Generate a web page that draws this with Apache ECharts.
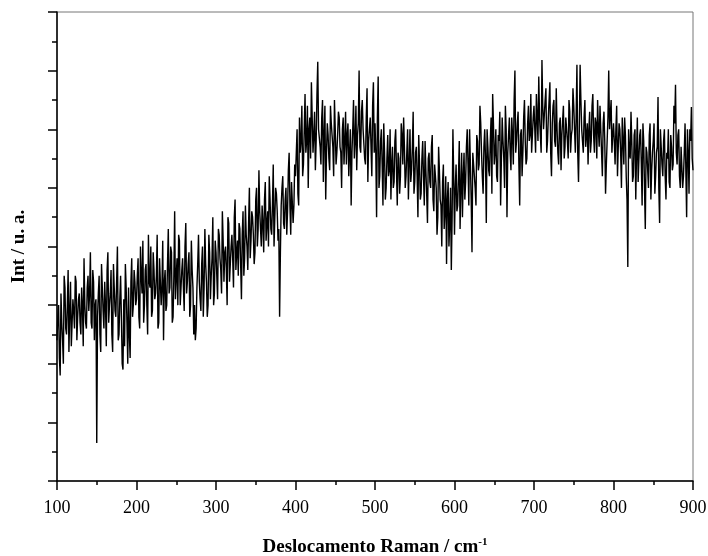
<!DOCTYPE html>
<html><head><meta charset="utf-8">
<script src="https://cdn.jsdelivr.net/npm/echarts@6/dist/echarts.min.js"></script>
<style>html,body{margin:0;padding:0;background:#fff}#c{width:708px;height:556px}</style>
</head><body><div id="c"></div>
<script>
// Raman shift grid: samples every 1 cm-1; each segment covers 100 cm-1,
// split into even-offset (x = start, start+2, ...) and odd-offset (x = start+1, start+3, ...) readings
const xStep = 2;
const xTickLabels = [100, 200, 300, 400, 500, 600, 700, 800, 900];
// Intensity (arbitrary units, axis 0..800)
const even100 = [240,300,180,270,200,330,250,360,290,230, 310,260,340,280,320,250,300,380,270,330,
  290,390,260,340,300,65,320,250,370,290, 340,230,390,300,360,220,330,280,400,250,
  350,200,310,370,270,330,210,380,300,340];
const odd100 = [280,210,320,240,350,260,300,220,340,270, 290,350,240,310,270,330,230,300,260,350,
  320,270,360,240,310,280,350,220,330,260, 300,360,270,320,250,370,290,340,240,310,
  280,190,230,330,200,250,340,280,360,300];
const even200 = [310,380,260,350,410,300,370,250,340,400, 290,360,320,420,270,380,330,240,360,300,
  430,330,390,280,460,350,300,410,330,380, 290,440,340,390,300,360,250,240,330,420,
  310,370,280,430,340,300,390,350,450,320];
const odd200 = [350,280,400,320,270,360,300,420,330,280, 390,310,350,260,380,300,410,340,290,370,
  320,400,270,350,310,380,420,300,360,330, 400,320,370,280,410,330,300,260,370,340,
  290,400,330,370,280,420,310,380,300,410];
const even300 = [390,310,420,360,460,340,400,300,440,370, 420,330,480,390,350,430,310,460,380,420,
  360,500,410,450,370,480,400,530,430,470, 390,510,440,400,480,420,540,450,490,410,
  280,470,520,430,500,460,560,420,510,470];
const odd300 = [350,430,380,320,410,390,360,450,340,400, 380,450,360,410,440,370,420,350,470,400,
  440,380,460,420,390,500,430,460,400,440, 480,410,460,520,430,470,400,500,460,430,
  390,500,440,480,420,530,470,510,440,540];
const even400 = [520,600,470,560,640,540,660,580,500,620, 680,560,630,580,715,600,540,650,590,480,
  610,550,640,590,520,600,560,630,570,500, 620,580,540,610,560,470,600,550,640,590,
  700,560,650,600,540,670,580,620,520,680];
const odd400 = [560,490,620,580,520,600,560,640,600,550, 620,590,530,660,600,570,620,510,640,560,
  590,530,610,570,650,540,590,620,560,600, 540,630,590,520,600,560,650,580,530,610,
  570,630,600,550,620,510,600,570,640,560];
const even500 = [610,450,690,520,600,470,560,500,590,530, 480,570,510,600,470,550,520,590,620,500,
  560,480,600,530,630,510,570,450,540,490, 580,470,530,440,560,500,590,460,520,420,
  570,480,400,540,460,370,510,440,360,600];
const odd500 = [560,620,500,580,540,610,480,550,520,600, 540,500,580,530,560,490,610,540,570,520,
  600,540,510,570,490,560,520,590,480,550, 520,580,490,550,510,570,480,540,500,450,
  530,470,510,430,520,480,400,500,450,520];
const even600 = [420,540,470,580,500,450,560,510,600,470, 540,390,560,500,590,530,640,560,490,600,
  440,570,520,620,660,540,600,510,580,470, 620,550,640,450,590,560,620,540,700,580,
  630,470,600,560,650,540,610,580,660,560];
const odd600 = [500,460,520,430,560,520,480,570,540,600, 480,560,520,470,580,540,610,520,570,550,
  600,530,580,490,610,560,520,590,630,550, 580,500,600,560,620,530,590,650,560,610,
  540,590,520,620,580,550,640,590,560,620];
const even700 = [640,560,620,690,590,718,600,650,560,620, 680,520,640,580,670,560,610,530,590,550,
  620,580,650,560,600,640,560,710,510,710, 600,560,650,590,540,630,580,660,560,610,
  650,570,600,520,630,490,580,700,600,560];
const odd700 = [600,660,580,620,560,640,600,670,580,620, 560,610,650,570,600,540,620,590,640,570,
  600,550,630,590,670,600,620,560,600,650, 580,620,570,610,600,560,640,590,620,550,
  600,640,560,610,580,540,620,600,650,590];
const even800 = [610,540,640,570,600,500,580,620,520,365, 560,630,510,590,480,620,550,600,470,580,
  430,560,500,610,530,580,490,560,655,440, 570,520,600,480,550,510,590,530,640,676,
  540,600,500,570,520,610,450,560,600,638, 530];
const odd800 = [580,600,520,610,560,620,540,590,480,600, 550,580,520,600,560,510,590,540,610,500,
  570,530,590,480,560,610,520,570,500,600, 540,580,520,560,600,500,570,540,610,560,
  590,520,570,500,560,530,600,490,580,550];

const segments = [
  [100, even100, odd100], [200, even200, odd200], [300, even300, odd300], [400, even400, odd400],
  [500, even500, odd500], [600, even600, odd600], [700, even700, odd700], [800, even800, odd800]
];
const data = [];
segments.forEach(([start, ev, od]) => {
  ev.forEach((v, i) => data.push([start + i * xStep, v]));
  od.forEach((v, i) => data.push([start + 1 + i * xStep, v]));
});
data.sort((a, b) => a[0] - b[0]);

const serif = '"Liberation Serif", "Times New Roman", serif';
const chart = echarts.init(document.getElementById('c'), null, {renderer: 'canvas'});
chart.setOption({
  animation: false,
  backgroundColor: '#fff',
  grid: {left: 57, right: 15, top: 12, bottom: 75, outerBoundsMode: 'none', containLabel: false,
    show: true, borderColor: '#777', borderWidth: 1, backgroundColor: 'transparent'},
  xAxis: {
    type: 'value', min: xTickLabels[0], max: xTickLabels[xTickLabels.length - 1], interval: 100,
    name: 'Deslocamento Raman / cm{sup|-1}', nameLocation: 'middle', nameGap: 56,
    nameTextStyle: {fontFamily: serif, fontWeight: 'bold', fontSize: 19, color: '#000',
      rich: {sup: {fontFamily: serif, fontWeight: 'bold', fontSize: 11, verticalAlign: 'top', padding: [0,0,10,0], color: '#000'}}},
    axisLine: {show: true, onZero: false, lineStyle: {color: '#000', width: 1.5}},
    axisTick: {show: true, inside: false, length: 9, lineStyle: {color: '#000', width: 1.5}},
    minorTick: {show: true, splitNumber: 2, length: 4, lineStyle: {color: '#000', width: 1.5}},
    axisLabel: {fontFamily: serif, fontSize: 18, color: '#000', margin: 18},
    splitLine: {show: false}
  },
  yAxis: {
    type: 'value', min: 0, max: 800, interval: 100,
    name: 'Int / u. a.', nameLocation: 'middle', nameGap: 28,
    nameTextStyle: {fontFamily: serif, fontWeight: 'bold', fontSize: 19, color: '#000'},
    axisLine: {show: true, onZero: false, lineStyle: {color: '#000', width: 1.5}},
    axisTick: {show: true, inside: false, length: 9, lineStyle: {color: '#000', width: 1.5}},
    minorTick: {show: true, splitNumber: 2, length: 5, lineStyle: {color: '#000', width: 1.5}},
    axisLabel: {show: false},
    splitLine: {show: false}
  },
  series: [{
    type: 'line', data: data, showSymbol: false, symbol: 'none',
    lineStyle: {color: '#000', width: 1.4}, clip: true
  }]
});
</script>
</body></html>
